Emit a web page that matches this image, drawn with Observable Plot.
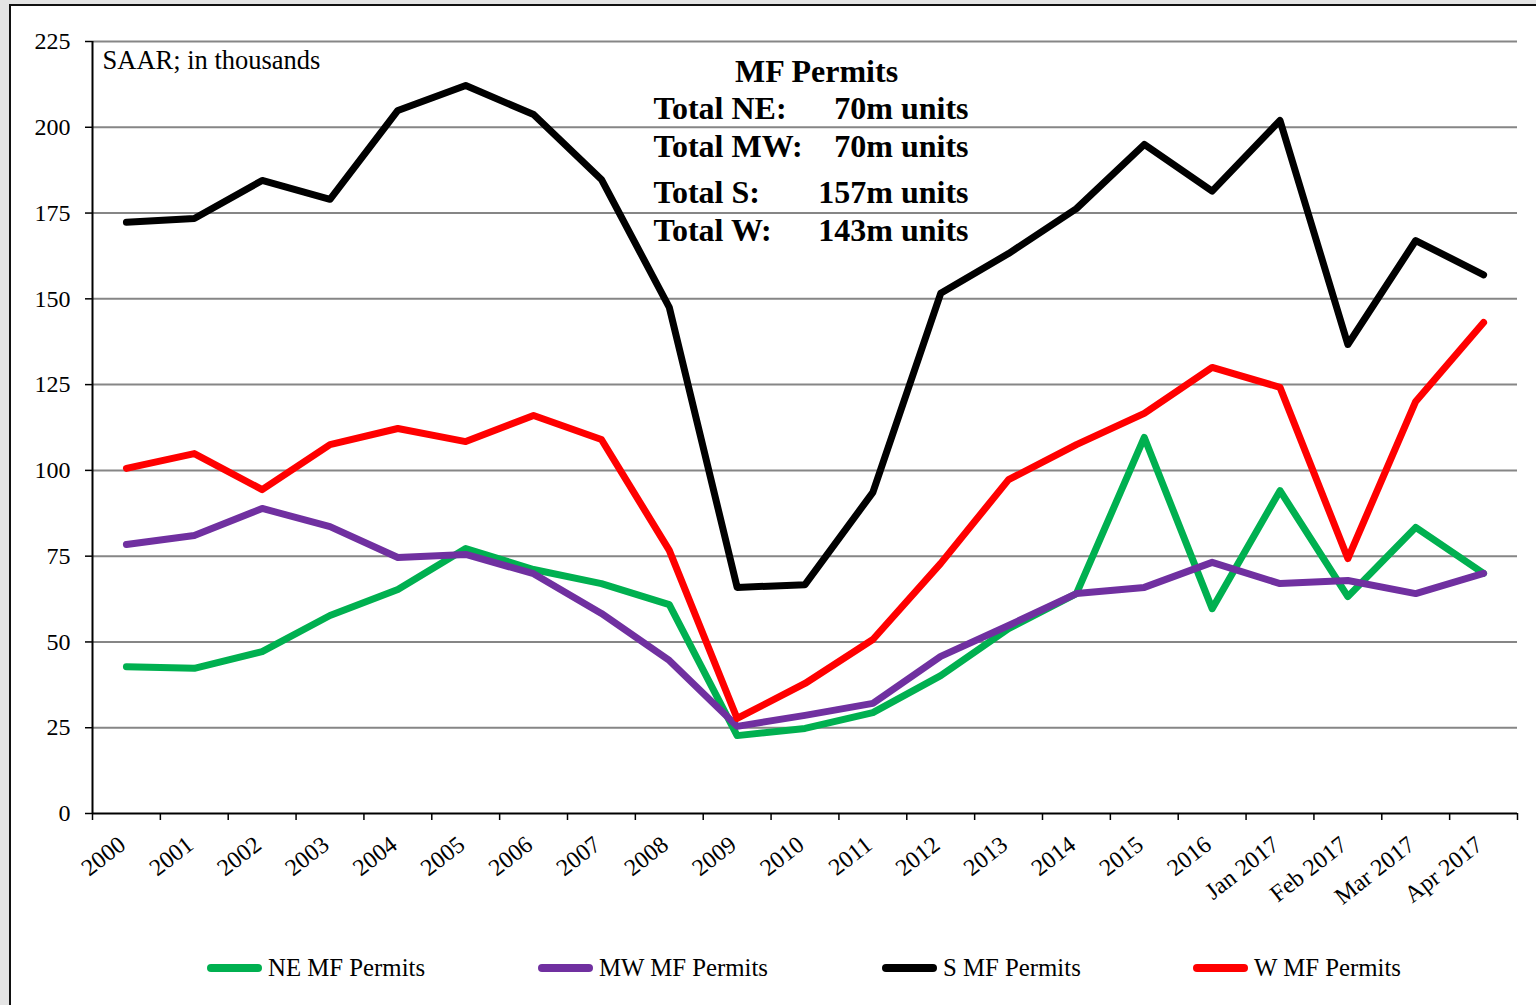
<!DOCTYPE html>
<html>
<head>
<meta charset="utf-8">
<script src="https://cdn.jsdelivr.net/npm/d3@7"></script>
<script src="https://cdn.jsdelivr.net/npm/@observablehq/plot@0.6"></script>
<style>
  html, body { margin: 0; padding: 0; }
  body { width: 1536px; height: 1005px; background: #e4e4e4; position: relative; overflow: hidden; font-family: "Liberation Serif", serif; }
  #frame { position: absolute; left: 9px; top: 4px; width: 1560px; height: 1040px; border: 2px solid #111; background: #fff; box-sizing: border-box; }
  #chart { position: absolute; left: 0; top: 0; }
  #legend { position: absolute; left: 0; top: 0; width: 1536px; height: 1005px; pointer-events: none; }
  .item { position: absolute; top: 953px; height: 30px; display: flex; align-items: center; font-size: 24.8px; color: #000; white-space: nowrap; }
  .sw { display: inline-block; width: 55px; height: 8px; border-radius: 4px; margin-right: 6px; }
</style>
</head>
<body>
<div id="frame"></div>
<div id="chart"></div>
<div id="legend"></div>
<script>
const categories = ["2000","2001","2002","2003","2004","2005","2006","2007","2008","2009","2010","2011","2012","2013","2014","2015","2016","Jan 2017","Feb 2017","Mar 2017","Apr 2017"];
const neValues = [42.8, 42.3, 47.2, 57.7, 65.3, 77.2, 71.1, 67.0, 60.9, 22.7, 24.8, 29.4, 40.2, 53.9, 64.1, 109.6, 59.7, 94.1, 63.2, 83.4, 70.0];
const mwValues = [78.4, 81.0, 88.9, 83.6, 74.6, 75.5, 69.9, 58.3, 44.6, 25.4, 28.6, 32.1, 45.8, 54.8, 64.1, 65.9, 73.2, 67.0, 67.9, 64.1, 70.0];
const sValues  = [172.3, 173.4, 184.5, 179.0, 204.9, 212.2, 203.7, 184.8, 147.5, 65.9, 66.7, 93.6, 151.6, 163.2, 176.3, 195.0, 181.4, 202.0, 136.7, 167.0, 157.0];
const wValues  = [100.6, 104.9, 94.4, 107.5, 112.2, 108.4, 116.0, 109.0, 76.7, 27.7, 37.9, 50.7, 72.9, 97.3, 107.5, 116.6, 130.0, 124.2, 74.3, 120.1, 143.1];
const seriesNames = ["NE MF Permits", "MW MF Permits", "S MF Permits", "W MF Permits"];
const seriesColors = ["#00B050", "#7030A0", "#000000", "#FF0000"];
const yTicks = [0, 25, 50, 75, 100, 125, 150, 175, 200, 225];
const noteTitle = "MF Permits";
const noteLabels = ["Total NE:", "Total MW:", "Total S:", "Total W:"];
const noteValues = ["70m units", "70m units", "157m units", "143m units"];
const subtitle = "SAAR; in thousands";

const allValues = [neValues, mwValues, sValues, wValues];
const rows = [];
allValues.forEach((vals, s) => vals.forEach((v, i) => rows.push({series: seriesNames[s], i, v})));

const FONT = "Liberation Serif";
const noteDy = [56, 94, 140, 178];
const noteStyle = {frameAnchor: "top-left", lineAnchor: "top", fontSize: 32, fontWeight: "bold", fontFamily: FONT, fill: "#000"};

const chart = Plot.plot({
  width: 1536,
  height: 930,
  marginLeft: 92,
  marginRight: 19,
  marginTop: 41,
  marginBottom: 117,
  style: {background: "transparent", fontFamily: FONT, fontSize: "24px", color: "#000"},
  x: {type: "linear", domain: [-0.5, categories.length - 0.5], axis: null},
  y: {domain: [0, 225], axis: null},
  color: {domain: seriesNames, range: seriesColors},
  marks: [
    Plot.gridY(yTicks.filter(d => d > 0), {stroke: "#868686", strokeOpacity: 1, strokeWidth: 2}),
    Plot.axisY(yTicks, {label: null, tickSize: 7, tickPadding: 15, fontSize: 24, fontFamily: FONT, stroke: "#000", strokeWidth: 1.5}),
    Plot.axisX(d3.range(-0.5, categories.length, 1), {label: null, tickSize: 7, tickFormat: () => "", stroke: "#000", strokeWidth: 1.5}),
    Plot.axisX(d3.range(categories.length), {label: null, tickSize: 0, tickPadding: 28, dx: -4, tickRotate: -38, tickFormat: i => categories[i], fontSize: 24, fontFamily: FONT}),
    Plot.ruleY([0], {stroke: "#000", strokeWidth: 2}),
    Plot.ruleX([-0.5], {stroke: "#000", strokeWidth: 2}),
    Plot.line(rows, {x: "i", y: "v", z: "series", stroke: "series", strokeWidth: 7, strokeLinejoin: "round", strokeLinecap: "round"}),
    Plot.text([subtitle], {frameAnchor: "top-left", dx: 10, dy: 9, lineAnchor: "top", textAnchor: "start", fontSize: 26.5, fontFamily: FONT, fill: "#000"}),
    Plot.text([noteTitle], {...noteStyle, dx: 724, dy: 18, textAnchor: "middle"}),
    ...noteLabels.map((t, k) => Plot.text([t], {...noteStyle, dx: 561, dy: noteDy[k] - 1, textAnchor: "start"})),
    ...noteValues.map((t, k) => Plot.text([t], {...noteStyle, dx: 876, dy: noteDy[k] - 1, textAnchor: "end"}))
  ]
});
document.getElementById("chart").appendChild(chart);

const legendX = [207, 538, 882, 1193];
const legend = document.getElementById("legend");
seriesNames.forEach((name, k) => {
  const item = document.createElement("div");
  item.className = "item";
  item.style.left = legendX[k] + "px";
  const sw = document.createElement("span");
  sw.className = "sw";
  sw.style.background = seriesColors[k];
  item.appendChild(sw);
  item.appendChild(document.createTextNode(name));
  legend.appendChild(item);
});
</script>
</body>
</html>
